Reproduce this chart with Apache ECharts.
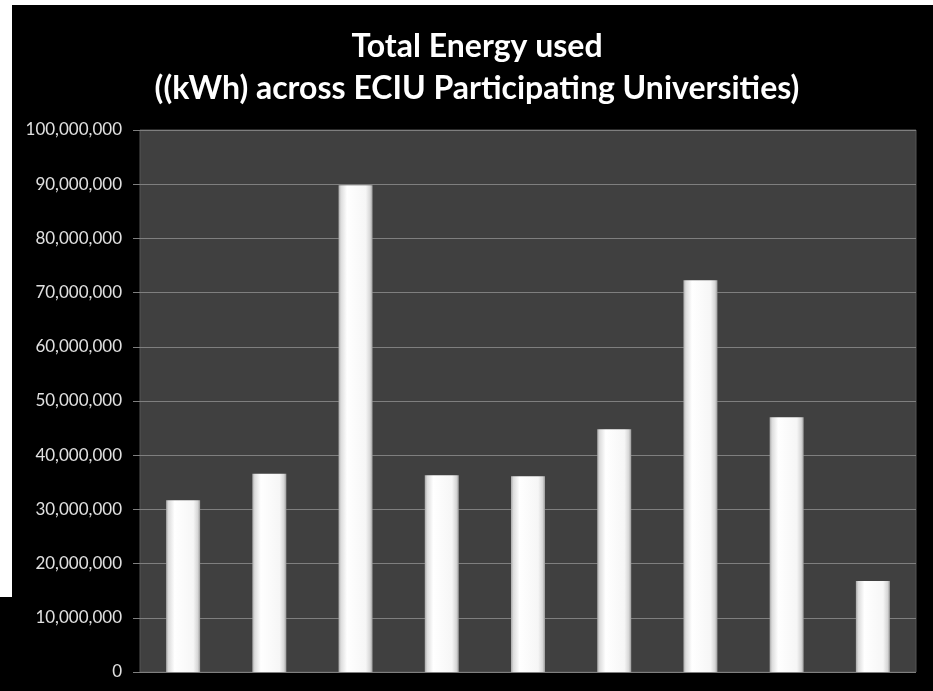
<!DOCTYPE html>
<html>
<head>
<meta charset="utf-8">
<script src="https://cdn.jsdelivr.net/npm/echarts@6/dist/echarts.min.js"></script>
<style>
html,body{margin:0;padding:0;background:#000;}
#chart{width:933px;height:691px;}
</style>
</head>
<body>
<div id="chart"></div>
<script>
const titleLines = ['Total Energy used', '((kWh) across ECIU Participating Universities)'];
const categories = ['University 1','University 2','University 3','University 4','University 5','University 6','University 7','University 8','University 9'];
const energyKWh = [31700000, 36600000, 89800000, 36300000, 36100000, 44800000, 72300000, 47000000, 16800000];
const yMin = 0, yMax = 100000000, yStep = 10000000;

const chart = echarts.init(document.getElementById('chart'), null, {renderer: 'canvas'});
const barGradient = new echarts.graphic.LinearGradient(0, 0, 1, 0, [
  {offset: 0, color: '#a8a8a8'},
  {offset: 0.07, color: '#dcdcdc'},
  {offset: 0.25, color: '#ffffff'},
  {offset: 0.8, color: '#f6f6f6'},
  {offset: 0.93, color: '#d6d6d6'},
  {offset: 1, color: '#9a9a9a'}
]);
chart.setOption({
  backgroundColor: '#000000',
  animation: false,
  graphic: [
    {type: 'rect', left: 0, top: 0, shape: {width: 933, height: 5}, style: {fill: '#ffffff'}, silent: true},
    {type: 'rect', left: 0, top: 0, shape: {width: 12, height: 597}, style: {fill: '#ffffff'}, silent: true}
  ],
  title: {
    text: titleLines.join('\n'),
    left: 472, textAlign: 'center', top: 21,
    textStyle: {color: '#ffffff', fontFamily: 'Lato', fontWeight: 'bold', fontSize: 32, lineHeight: 42}
  },
  grid: {left: 140, right: 17, top: 130, bottom: 19, show: true, backgroundColor: '#404040', borderColor: '#555555', borderWidth: 1},
  xAxis: {
    type: 'category', data: categories,
    axisLabel: {show: false}, axisTick: {show: false},
    axisLine: {show: false}
  },
  yAxis: {
    type: 'value', min: yMin, max: yMax, interval: yStep,
    axisLine: {show: false},
    axisTick: {show: true, length: 7, lineStyle: {color: '#7f7f7f'}},
    splitLine: {lineStyle: {color: '#7f7f7f', width: 1}},
    axisLabel: {
      color: '#e0e0e0', fontFamily: 'Lato', fontSize: 17, margin: 18,
      formatter: v => v.toLocaleString('en-US')
    }
  },
  series: [{
    type: 'bar', data: energyKWh, barWidth: 34,
    itemStyle: {color: barGradient}
  }]
});
</script>
</body>
</html>
